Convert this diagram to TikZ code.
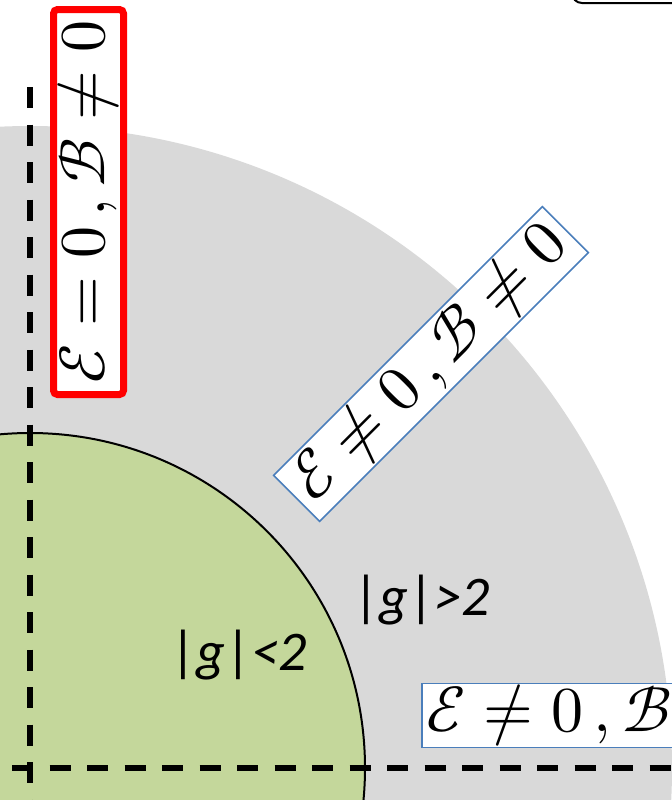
\documentclass[tikz,border=0pt]{standalone}
\usepackage{amsmath}
\usepackage{fontspec}
\usepackage{unicode-math}
\setmathfont{Latin Modern Math}
\newfontfamily\labelfont{Carlito}
\usetikzlibrary{positioning}

\definecolor{regiongray}{RGB}{217,217,217}
\definecolor{regiongreen}{RGB}{196,215,155}
\definecolor{boxblue}{RGB}{74,126,187}

\begin{document}
\begin{tikzpicture}[x=0.5pt,y=-0.5pt,
    axis/.style={line width=2.75pt, dash pattern=on 10.5pt off 8.25pt},
    casebox/.style={draw=boxblue, line width=0.75pt, fill=white, inner sep=0pt,
      font=\fontsize{32}{38}\selectfont},
    region/.style={font=\labelfont\fontsize{28}{34}\selectfont}]
  % picture frame
  \clip (0,0) rectangle (672,800);

  % origin of both regions
  \coordinate (O) at (30,768);

  % outer region |g|>2 and inner region |g|<2
  \fill[regiongray] (O) circle[radius=642];
  \filldraw[fill=regiongreen, draw=black, line width=1pt] (O) circle[radius=335];

  % dashed axes
  \coordinate (vtop) at (30,87);
  \coordinate (vbot) at (30,820);
  \coordinate (hleft) at (12,768);
  \coordinate (hright) at (700,768);
  \draw[axis] (vtop) -- (vbot);
  \draw[axis] (hleft) -- (hright);

  % corner of a box above the frame
  \draw[line width=1pt, rounded corners=5pt] (572,-40) -- (572,3) -- (700,3);

  % region labels
  \node[region] (inner) at (239,655) {|\textit{g}|\textit{<2}};
  \node[region] (outer) at (422,600) {|\textit{g}|\textit{>2}};

  % case boxes
  \node[casebox, draw=red, line width=3.5pt, rounded corners=2pt, rotate=90,
    minimum width=192.5pt, minimum height=35pt] (electric) at (88.5,202)
    {$\mathcal{E}=0\,,\mathcal{B}\neq 0$};
  \node[casebox, rotate=45, minimum width=190pt, minimum height=32.5pt]
    (mixed) at (431,364) {$\mathcal{E}\neq 0\,,\mathcal{B}\neq 0$};
  \node[casebox, anchor=west, minimum height=32pt, text width=180pt,
    inner xsep=2.5pt] (magnetic) at (421,715.5) {$\mathcal{E}\neq 0\,,\mathcal{B}$};
\end{tikzpicture}
\end{document}
